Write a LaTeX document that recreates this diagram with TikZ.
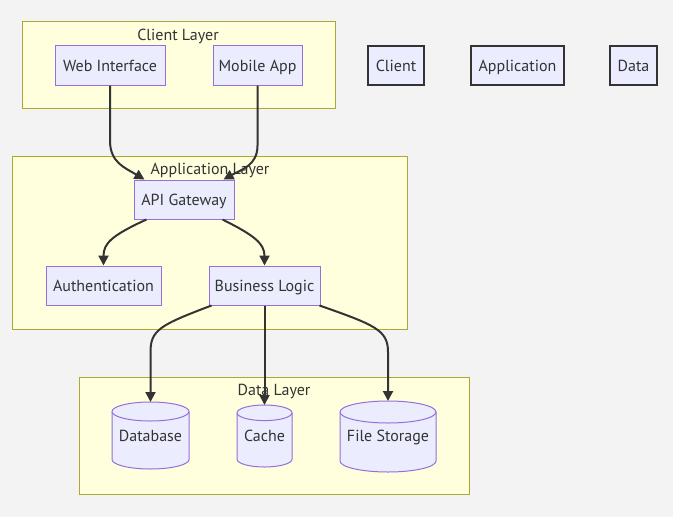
\documentclass[tikz,border=0pt]{standalone}
\usepackage{fontspec}
\setmainfont{PT Sans}
\usetikzlibrary{arrows.meta,calc}
\definecolor{bg}{HTML}{F3F3F3}
\definecolor{nodefill}{HTML}{ECECFF}
\definecolor{nodeline}{HTML}{9370DB}
\definecolor{clfill}{HTML}{FFFFDE}
\definecolor{clline}{HTML}{AAAA33}
\definecolor{ink}{HTML}{333333}
\tikzset{
  txt/.style={text=ink,font=\fontsize{12}{14}\selectfont,inner sep=0pt,text height=9.5pt,text depth=1.1pt},
  cluster/.style={draw=clline,fill=clfill,line width=0.75pt},
  cltitle/.style={txt},
  box/.style={txt,draw=nodeline,fill=nodefill,line width=0.75pt,minimum height=29.25pt},
  legendbox/.style={txt,draw=ink,fill=nodefill,line width=1.5pt,minimum height=29.25pt},
  cyl/.style={draw=nodeline,fill=nodefill,line width=0.75pt},
  cyltext/.style={txt},
  edge/.style={draw=ink,line width=1.5pt,-{Triangle[length=7.5pt,width=7.5pt]}},
}
\begin{document}
\begin{tikzpicture}[x=0.75pt,y=-0.75pt]
\useasboundingbox[fill=bg] (0,0) rectangle (673,517);
% clusters
\draw[cluster] (22,22) rectangle (335,108);
\node[cltitle] (tclient) at (178,35) {Client Layer};
\draw[cluster] (12,156) rectangle (407,329);
\node[cltitle] (tapp) at (210,169) {Application Layer};
\draw[cluster] (79,377) rectangle (469,494);
\node[cltitle] (tdata) at (274,390) {Data Layer};
% nodes
\node[box,minimum width=82.5pt] (web) at (110,65.5) {Web Interface};
\node[box,minimum width=66.75pt] (mobile) at (257.5,65.5) {Mobile App};
\node[box,minimum width=75pt] (api) at (184,199.5) {API Gateway};
\node[box,minimum width=86.25pt] (auth) at (103.5,285.5) {Authentication};
\node[box,minimum width=83.25pt] (bl) at (264.5,285.5) {Business Logic};
% legend
\node[legendbox,minimum width=42pt] (lclient) at (396,65.5) {Client};
\node[legendbox,minimum width=69.75pt] (lapp) at (517.5,65.5) {Application};
\node[legendbox,minimum width=35.25pt] (ldata) at (633.5,65.5) {Data};
% cylinders
\draw[cyl] (112,411.5) -- (112,459.5) arc[start angle=180,end angle=360,x radius=28.875pt,y radius=7.125pt]
  -- (189,411.5) arc[start angle=0,end angle=180,x radius=28.875pt,y radius=7.125pt] -- cycle;
\draw[cyl] (112,411.5) arc[start angle=180,end angle=360,x radius=28.875pt,y radius=7.125pt];
\node[cyltext] (db) at (150.5,436) {Database};
\coordinate (dbtop) at (150.5,402);
\draw[cyl] (237,412.8) -- (237,459.2) arc[start angle=180,end angle=360,x radius=20.625pt,y radius=5.85pt]
  -- (292,412.8) arc[start angle=0,end angle=180,x radius=20.625pt,y radius=5.85pt] -- cycle;
\draw[cyl] (237,412.8) arc[start angle=180,end angle=360,x radius=20.625pt,y radius=5.85pt];
\node[cyltext] (cache) at (264.5,436) {Cache};
\coordinate (cachetop) at (264.5,405);
\draw[cyl] (340,412) -- (340,461) arc[start angle=180,end angle=360,x radius=36pt,y radius=8.25pt]
  -- (436,412) arc[start angle=0,end angle=180,x radius=36pt,y radius=8.25pt] -- cycle;
\draw[cyl] (340,412) arc[start angle=180,end angle=360,x radius=36pt,y radius=8.25pt];
\node[cyltext] (file) at (388,436) {File Storage};
\coordinate (filetop) at (388,401);
% edges
\draw[edge] (web.south) -- ++(0,55) .. controls ++(0,22) and ($(api.north west)+(-9,-12)$) .. ($(api.north west)+(11,0)$);
\draw[edge] (mobile.south) -- ++(0,60) .. controls ++(0,20) and ($(api.north east)+(7,-10)$) .. ($(api.north east)+(-11,0)$);
\draw[edge] ($(api.south west)+(13,0)$) .. controls ($(api.south west)+(-22,16)$) and ($(auth.north)+(0,-22)$) .. (auth.north);
\draw[edge] ($(api.south east)+(-12,0)$) .. controls ($(api.south east)+(20,16)$) and ($(bl.north)+(0,-22)$) .. (bl.north);
\draw[edge] ($(bl.south west)+(3,0)$) .. controls (160,325) and (150.5,330) .. (150.5,352) -- (dbtop);
\draw[edge] (bl.south) -- (cachetop);
\draw[edge] ($(bl.south east)+(-1,0)$) .. controls (375,325) and (388,330) .. (388,352) -- (filetop);
\end{tikzpicture}
\end{document}
